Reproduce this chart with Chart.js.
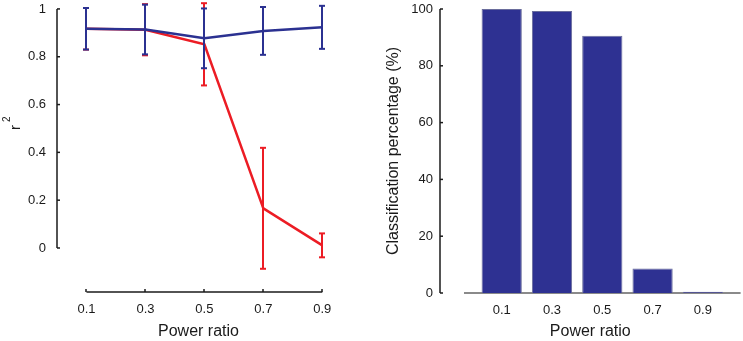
<!DOCTYPE html>
<html>
<head>
<meta charset="utf-8">
<script src="https://cdn.jsdelivr.net/npm/chart.js@4.4.0/dist/chart.umd.min.js"></script>
<style>
    html, body { margin: 0; padding: 0; background: #fff; }
    #wrap { position: relative; width: 743px; height: 341px; }
    canvas { position: absolute; top: 0; }
    #left-chart { left: 0; }
    #right-chart { left: 370px; }
</style>
</head>
<body>
<div id="wrap">
    <canvas id="left-chart" width="370" height="341"></canvas>
    <canvas id="right-chart" width="373" height="341"></canvas>
</div>
<script>
// power ratio categories
const powerRatios = [0.1, 0.3, 0.5, 0.7, 0.9];
const ratioLabels = ['0.1', '0.3', '0.5', '0.7', '0.9'];

// left panel: r^2, mean and error half-width
const r2Red = [0.917, 0.913, 0.852, 0.166, 0.011];
const r2RedErr = [0.087, 0.107, 0.172, 0.253, 0.05];
const r2Blue = [0.917, 0.914, 0.877, 0.908, 0.923];
const r2BlueErr = [0.087, 0.104, 0.125, 0.1, 0.09];
const r2Ticks = [0, 0.2, 0.4, 0.6, 0.8, 1];

// right panel: classification percentage
const classPercent = [100, 99.3, 90.6, 8.6, 0.4];
const percentTicks = [0, 20, 40, 60, 80, 100];

const COLORS = {
    red: '#ec1c24',
    blue: '#2b3191',
    bar: '#2e3192',
    barEdge: '#6a6d9c',
    axis: '#1a1a1a',
    grayAxis: '#8a8a8a',
    text: '#1a1a1a',
};

const FONT = '"Liberation Sans", Arial, sans-serif';

Chart.defaults.font.family = FONT;
Chart.defaults.font.size = 13;
Chart.defaults.color = COLORS.text;
Chart.defaults.animation = false;

const line = (ctx, x1, y1, x2, y2) => {
    ctx.beginPath();
    ctx.moveTo(x1, y1);
    ctx.lineTo(x2, y2);
    ctx.stroke();
};

// no automatic label padding, the layout is fixed by hand
const noPadY = (width) => (s) => { s.width = width; s.paddingTop = 0; s.paddingBottom = 0; };
const noPadX = (height) => (s) => { s.height = height; s.paddingLeft = 0; s.paddingRight = 0; };

// MATLAB-like detached axes with inward ticks, plus error bars
const detachedAxes = {
    id: 'detachedAxes',
    beforeDatasetsDraw(chart, args, opts) {
        const ctx = chart.ctx;
        const {x, y} = chart.scales;
        const area = chart.chartArea;
        ctx.save();
        ctx.lineWidth = 1.5;

        // y axis
        ctx.strokeStyle = COLORS.axis;
        const yx = area.left;
        line(ctx, yx, y.getPixelForValue(opts.yRange[0]), yx, y.getPixelForValue(opts.yRange[1]));
        y.ticks.forEach((t) => {
            const py = y.getPixelForValue(t.value);
            line(ctx, yx, py, yx + 3, py);
        });

        // x axis
        ctx.strokeStyle = opts.xColor || COLORS.axis;
        ctx.lineWidth = opts.xWidth || 1.5;
        const xy = area.bottom;
        line(ctx, x.getPixelForValue(opts.xRange[0]), xy, x.getPixelForValue(opts.xRange[1]), xy);
        if (opts.xTicks) {
            x.ticks.forEach((t) => {
                const px = Math.round(x.getPixelForValue(t.value));
                line(ctx, px, xy, px, xy - 3);
            });
        }

        // rotated "r" with superscript 2
        if (opts.r2Title) {
            ctx.translate(opts.r2Title.x, opts.r2Title.y);
            ctx.rotate(-Math.PI / 2);
            ctx.fillStyle = COLORS.text;
            ctx.textAlign = 'left';
            ctx.textBaseline = 'alphabetic';
            ctx.font = '15px ' + FONT;
            ctx.fillText('r', 0, 0);
            ctx.font = '10px ' + FONT;
            ctx.fillText('2', 8, -10.5);
        }
        ctx.restore();
    },
    afterDatasetDraw(chart, args, opts) {
        const errs = opts.errors && opts.errors[args.index];
        if (!errs) return;
        const ctx = chart.ctx;
        const {x, y} = chart.scales;
        const ds = chart.data.datasets[args.index];
        ctx.save();
        ctx.strokeStyle = ds.borderColor;
        ctx.lineWidth = 2;
        ds.data.forEach((p, i) => {
            const px = Math.round(x.getPixelForValue(p.x));
            const top = y.getPixelForValue(p.y + errs[i]);
            const bot = y.getPixelForValue(p.y - errs[i]);
            line(ctx, px, top, px, bot);
            line(ctx, px - 3, top, px + 3, top);
            line(ctx, px - 3, bot, px + 3, bot);
        });
        ctx.restore();
    }
};

const xTitle = {
    display: true,
    text: 'Power ratio',
    font: {size: 16},
    padding: {top: 0, bottom: 0},
};

new Chart(document.getElementById('left-chart'), {
    type: 'line',
    data: {
        datasets: [
            {
                data: powerRatios.map((p, i) => ({x: p, y: r2Blue[i]})),
                borderColor: COLORS.blue,
                borderWidth: 2.5,
                pointRadius: 0,
                order: 1,
            },
            {
                data: powerRatios.map((p, i) => ({x: p, y: r2Red[i]})),
                borderColor: COLORS.red,
                borderWidth: 2.5,
                pointRadius: 0,
                order: 2,
            },
        ]
    },
    plugins: [detachedAxes],
    options: {
        responsive: false,
        devicePixelRatio: 1,
        layout: {padding: {left: 0, right: 30, top: 2, bottom: 0}},
        plugins: {
            legend: {display: false},
            tooltip: {enabled: false},
            detachedAxes: {
                errors: [r2BlueErr, r2RedErr],
                yRange: [0, 1],
                xRange: [0.1, 0.9],
                xTicks: true,
                r2Title: {x: 20, y: 130},
            },
        },
        scales: {
            x: {
                type: 'linear',
                min: 0,
                max: 0.96,
                offset: false,
                grid: {display: false, drawTicks: false},
                border: {display: false},
                afterBuildTicks: (s) => { s.ticks = powerRatios.map((v) => ({value: v})); },
                afterFit: noPadX(49),
                ticks: {padding: 10, callback: (v) => v.toFixed(1)},
                title: xTitle,
            },
            y: {
                min: -0.1841,
                max: 1.029,
                grid: {display: false, drawTicks: false},
                border: {display: false},
                afterBuildTicks: (s) => { s.ticks = r2Ticks.map((v) => ({value: v})); },
                afterFit: noPadY(57),
                ticks: {padding: 11, callback: (v) => String(Math.round(v * 10) / 10)},
            },
        }
    }
});

new Chart(document.getElementById('right-chart'), {
    type: 'bar',
    data: {
        datasets: [
            {
                data: classPercent.map((v, i) => ({x: i + 1, y: v})),
                backgroundColor: COLORS.bar,
                borderColor: COLORS.barEdge,
                borderWidth: 1,
                categoryPercentage: 0.8,
                barPercentage: 1,
            },
        ]
    },
    plugins: [detachedAxes],
    options: {
        responsive: false,
        devicePixelRatio: 1,
        layout: {padding: {left: 0, right: 2.4, top: 9, bottom: 0}},
        plugins: {
            legend: {display: false},
            tooltip: {enabled: false},
            detachedAxes: {
                yRange: [0, 100],
                xRange: [0.25, 5.75],
                xTicks: false,
                xColor: COLORS.grayAxis,
                xWidth: 2,
            },
        },
        scales: {
            x: {
                type: 'linear',
                min: -0.227,
                max: 5.75,
                offset: false,
                grid: {display: false, drawTicks: false},
                border: {display: false},
                afterBuildTicks: (s) => { s.ticks = ratioLabels.map((_, i) => ({value: i + 1})); },
                afterFit: noPadX(48),
                ticks: {padding: 10, callback: (v) => ratioLabels[v - 1]},
                title: xTitle,
            },
            y: {
                min: 0,
                max: 100,
                grid: {display: false, drawTicks: false},
                border: {display: false},
                afterBuildTicks: (s) => { s.ticks = percentTicks.map((v) => ({value: v})); },
                afterFit: noPadY(70),
                ticks: {padding: 7},
                title: {
                    display: true,
                    text: 'Classification percentage (%)',
                    font: {size: 16},
                    padding: {top: 14, bottom: 0},
                },
            },
        }
    }
});
</script>
</body>
</html>
